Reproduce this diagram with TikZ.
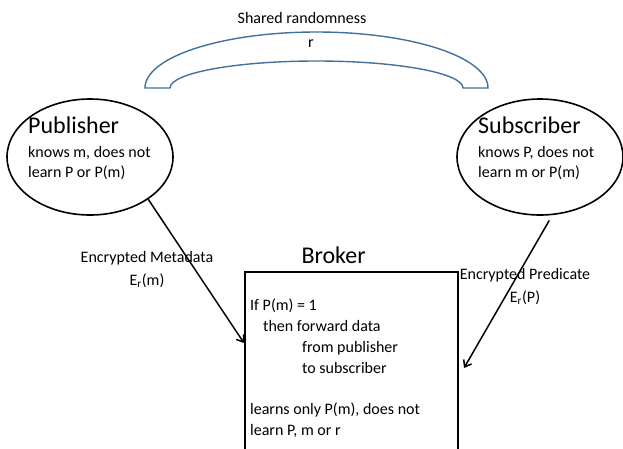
\documentclass[tikz,border=0pt]{standalone}
\usepackage{fontspec}
\setmainfont{Carlito}
\definecolor{arcblue}{RGB}{65, 113, 156}
\usetikzlibrary{shapes.geometric, arrows.meta, positioning, calc}

\begin{document}
\begin{tikzpicture}[x=1pt, y=-1pt,
    font=\fontsize{16}{20}\selectfont,
    party/.style={draw, ellipse, line width=1.6pt, minimum width=166pt, minimum height=116pt},
    partytext/.style={anchor=north west, inner sep=0pt, align=left},
    brokerbox/.style={draw, line width=2pt, anchor=north west, minimum width=213pt, minimum height=200pt, inner sep=0pt},
    msglabel/.style={anchor=north, inner sep=0pt, align=center},
    flow/.style={line width=1.5pt, -{Straight Barb[length=6pt, width=9pt]}}]
  \useasboundingbox (0,0) rectangle (623,448);

  \draw[arcblue, line width=1.4pt] (145,88) arc[start angle=180, end angle=0, x radius=171.5pt, y radius=56pt]
    -- (463,88) arc[start angle=0, end angle=180, x radius=146.5pt, y radius=27pt] -- cycle;
  \node[anchor=base] (shared) at (302,23) {Shared randomness};
  \node[anchor=base] (rnd) at (311,47) {r};

  \node[party] (pub) at (90,157) {};
  \node[partytext] (pubtext) at (28,117) {{\fontsize{24}{24}\selectfont Publisher}\\[4pt]
    knows m, does not\\ learn P or P(m)};

  \node[party] (sub) at (540,157) {};
  \node[partytext] (subtext) at (478,117) {{\fontsize{24}{24}\selectfont Subscriber}\\[4pt]
    knows P, does not\\ learn m or P(m)};

  \node[anchor=base west, font=\fontsize{24}{24}\selectfont] (brokertitle) at (298,263) {Broker};
  \node[brokerbox] (broker) at (244,271) {};
  \node[partytext, font=\fontsize{16}{20.7}\selectfont] (brokertext) at (250,299) {If P(m) = 1\\
    \hspace*{13pt}then forward data\\
    \hspace*{52pt}from publisher\\
    \hspace*{52pt}to subscriber\\[20.7pt]
    learns only P(m), does not\\ learn P, m or r};

  \node[msglabel] (metalabel) at (147,251) {Encrypted Metadata\\[3pt] E\textsubscript{r}(m)};
  \node[msglabel] (predlabel) at (525,268) {Encrypted Predicate\\[3pt] E\textsubscript{r}(P)};

  \coordinate (pubin) at ($(broker.north west)+(0,72)$);
  \coordinate (subin) at ($(broker.north east)+(5,97)$);
  \draw[flow] (pub.-36) -- (pubin);
  \draw[flow] ($(sub.-81)+(0,5)$) -- (subin);
\end{tikzpicture}
\end{document}
